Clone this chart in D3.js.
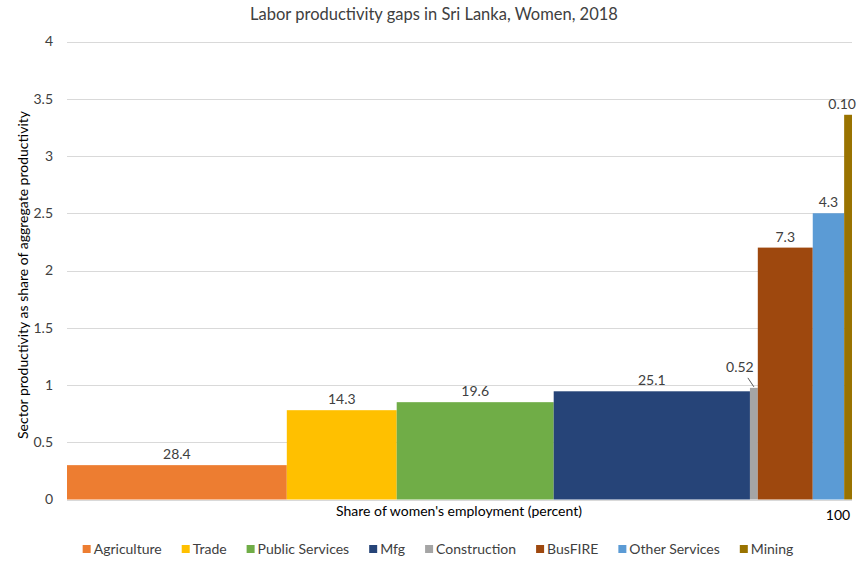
<!DOCTYPE html>
<html>
<head>
<meta charset="utf-8">
<script src="https://cdn.jsdelivr.net/npm/d3@7"></script>
<style>
  body { margin: 0; background: #fff; }
  svg { display: block; font-family: Lato, "Noto Sans", sans-serif; }
</style>
</head>
<body>
<svg id="chart" width="859" height="563"></svg>
<script>
// ---- data ----
const sectors = ["Agriculture", "Trade", "Public Services", "Mfg", "Construction", "BusFIRE", "Other Services", "Mining"];
const employmentShare = [28.4, 14.3, 19.6, 25.1, 0.52, 7.3, 4.3, 0.10];      // label values (% of women's employment)
const shareLabels = ["28.4", "14.3", "19.6", "25.1", "0.52", "7.3", "4.3", "0.10"];
const relativeProductivity = [0.30, 0.78, 0.85, 0.945, 0.975, 2.2, 2.5, 3.36];
const colors = ["#ED7D31", "#FFC000", "#70AD47", "#264478", "#A5A5A5", "#9E480E", "#5B9BD5", "#997300"];
const yTicks = [0, 0.5, 1, 1.5, 2, 2.5, 3, 3.5, 4];
const yTickLabels = ["0", "0.5", "1", "1.5", "2", "2.5", "3", "3.5", "4"];

const titleText = "Labor productivity gaps in Sri Lanka, Women, 2018";
const xTitle = "Share of women's employment (percent)";
const yTitle = "Sector productivity as share of aggregate productivity";

// ---- layout ----
const svg = d3.select("#chart");
const plot = { left: 67, right: 852, top: 41.5, bottom: 499.5 };

// widths on the step axis: shares rounded to whole percent (minimum 1)
const widths = employmentShare.map(s => Math.max(1, Math.round(s)));
let acc = 0;
const bars = sectors.map((name, i) => {
  const d = { name, x0: acc, x1: acc + widths[i], y: relativeProductivity[i], label: shareLabels[i], color: colors[i] };
  acc += widths[i];
  return d;
});

const x = d3.scaleLinear().domain([0, acc]).range([plot.left, plot.right]);
const y = d3.scaleLinear().domain([0, 4]).range([plot.bottom, plot.top]);

// title
svg.append("text")
  .attr("x", 434).attr("y", 20)
  .attr("text-anchor", "middle")
  .attr("font-size", 16.5)
  .attr("fill", "#404040")
  .text(titleText);

// gridlines
svg.append("g").selectAll("line")
  .data(yTicks)
  .join("line")
  .attr("x1", plot.left).attr("x2", plot.right)
  .attr("y1", d => Math.round(y(d)) + 0.5).attr("y2", d => Math.round(y(d)) + 0.5)
  .attr("stroke", "#d9d9d9").attr("stroke-width", 1);

// y tick labels
svg.append("g").selectAll("text")
  .data(yTicks)
  .join("text")
  .attr("x", 53).attr("y", d => y(d))
  .attr("dy", "0.35em")
  .attr("text-anchor", "end")
  .attr("font-size", 14)
  .attr("fill", "#404040")
  .text((d, i) => yTickLabels[i]);

// bars
svg.append("g").selectAll("rect")
  .data(bars)
  .join("rect")
  .attr("x", d => x(d.x0))
  .attr("width", d => x(d.x1) - x(d.x0))
  .attr("y", d => y(d.y))
  .attr("height", d => y(0) - y(d.y))
  .attr("fill", d => d.color);

// bar labels
const labelG = svg.append("g");
bars.forEach((d, i) => {
  const cx = (x(d.x0) + x(d.x1)) / 2;
  const top = y(d.y);
  if (d.name === "Construction") {
    labelG.append("line")
      .attr("x1", cx - 6).attr("y1", top - 10)
      .attr("x2", cx).attr("y2", top - 1)
      .attr("stroke", "#595959").attr("stroke-width", 1);
    labelG.append("text")
      .attr("x", cx - 14).attr("y", top - 16)
      .attr("text-anchor", "middle")
      .attr("font-size", 14).attr("fill", "#404040")
      .text(d.label);
  } else {
    const t = labelG.append("text")
      .attr("x", cx).attr("y", top - 6)
      .attr("text-anchor", "middle")
      .attr("font-size", 14).attr("fill", "#404040")
      .text(d.label);
    const w = t.node().getComputedTextLength();
    if (cx + w / 2 > 856) t.attr("x", 856 - w / 2);
  }
});

// x axis title and end label
svg.append("text")
  .attr("x", 459).attr("y", 516)
  .attr("text-anchor", "middle")
  .attr("font-size", 14).attr("fill", "#000")
  .text(xTitle);
svg.append("text")
  .attr("x", x(acc) - 14).attr("y", 520)
  .attr("text-anchor", "middle")
  .attr("font-size", 14).attr("fill", "#000")
  .text(String(acc));

// y axis title
svg.append("text")
  .attr("transform", "translate(28,275) rotate(-90)")
  .attr("text-anchor", "middle")
  .attr("font-size", 14).attr("fill", "#000")
  .text(yTitle);

// legend
const legend = svg.append("g");
const items = [];
let lx = 0;
sectors.forEach((name, i) => {
  const g = legend.append("g");
  g.append("rect").attr("x", 0).attr("y", -4).attr("width", 8).attr("height", 8).attr("fill", colors[i]);
  const t = g.append("text").attr("x", 11).attr("y", 0).attr("dy", "0.35em")
    .attr("font-size", 14).attr("fill", "#404040").text(name);
  const w = 11 + t.node().getComputedTextLength();
  items.push({ g, x: lx });
  lx += w + 20;
});
const totalW = lx - 20;
const startX = 438 - totalW / 2;
items.forEach(it => it.g.attr("transform", `translate(${startX + it.x},549)`));
</script>
</body>
</html>
